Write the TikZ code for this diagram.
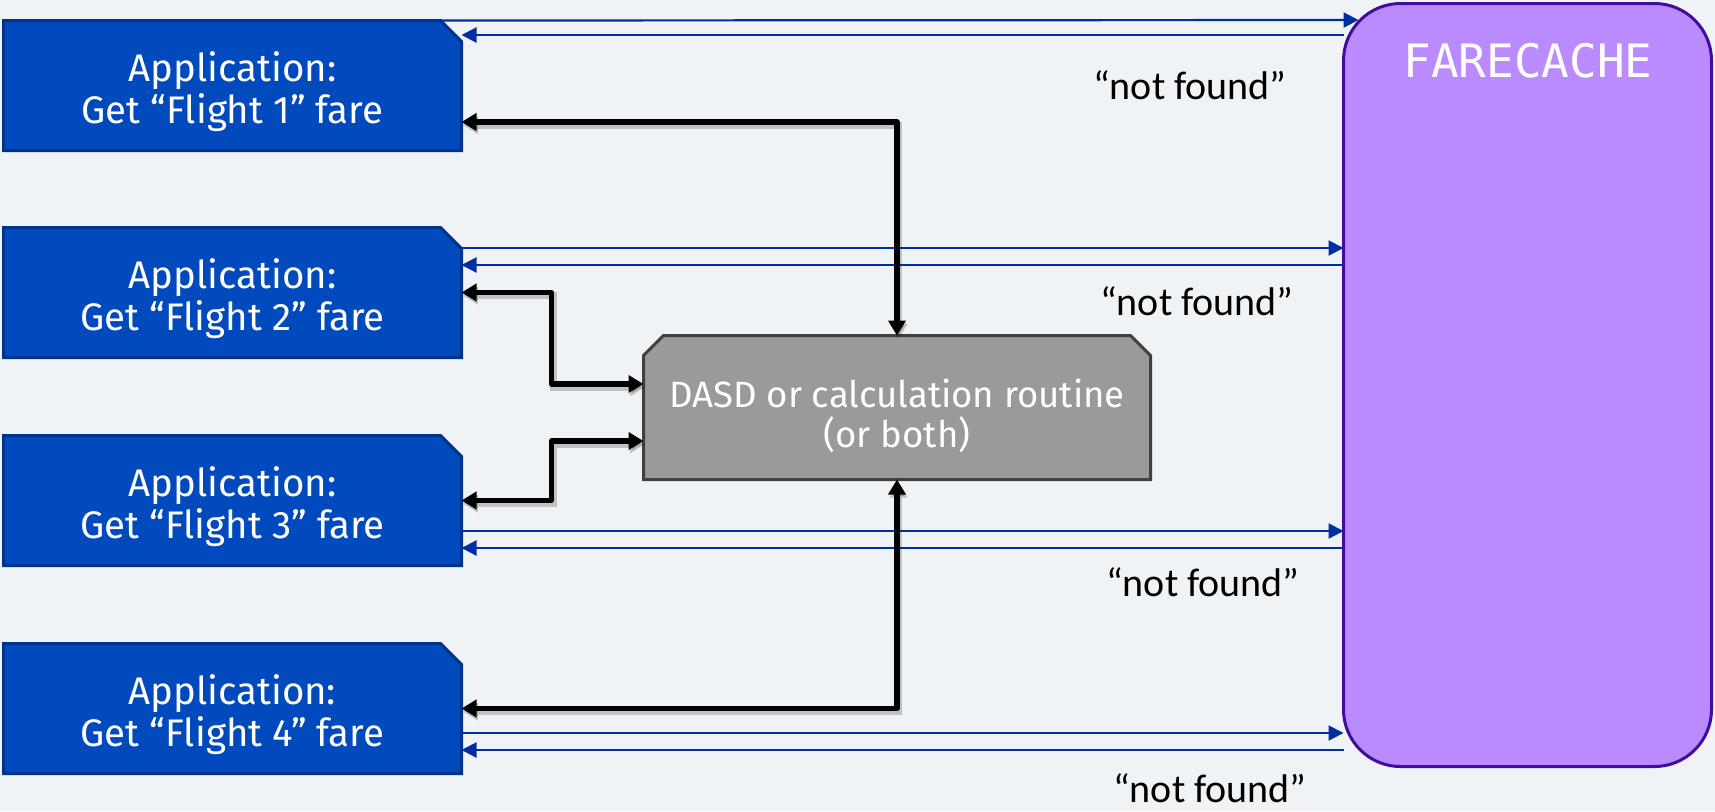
\documentclass[tikz,border=0pt]{standalone}
\usepackage{fontspec}
\setmainfont{Fira Sans}
\newfontfamily\quotefont{Carlito}
\newfontfamily\cachefont{DejaVu Sans Mono}
\usetikzlibrary{arrows.meta,calc,backgrounds}

\definecolor{pagebg}{RGB}{239,243,246}
\definecolor{appfill}{RGB}{0,74,190}
\definecolor{appedge}{RGB}{0,52,140}
\definecolor{dasdfill}{RGB}{154,154,154}
\definecolor{dasdedge}{RGB}{64,64,64}
\definecolor{cachefill}{RGB}{185,139,255}
\definecolor{cacheedge}{RGB}{66,12,158}
\definecolor{flowblue}{RGB}{0,46,162}

\tikzset{
  anchorbox/.style={rectangle, draw=none, inner sep=0pt, outer sep=0pt},
  apptext/.style={text=white, align=center, inner sep=0pt, yshift=-3pt,
    font=\fontsize{19.2pt}{21pt}\selectfont},
  appbox/.style={anchorbox, minimum width=229pt, minimum height=65pt},
  appshape/.style={fill=appfill, draw=appedge, line width=1.5pt},
  dasdtext/.style={text=white, align=center, inner sep=0pt, yshift=-4pt,
    font=\fontsize{18.3pt}{20pt}\selectfont},
  dasdbox/.style={anchorbox, minimum width=253.5pt, minimum height=72pt},
  dasdshape/.style={fill=dasdfill, draw=dasdedge, line width=1.5pt},
  cachebox/.style={rectangle, fill=cachefill, draw=cacheedge, line width=1.5pt,
    rounded corners=28.5pt, minimum width=184pt, minimum height=381.5pt,
    inner sep=0pt, outer sep=0pt},
  quote/.style={font=\quotefont\fontsize{20pt}{22pt}\selectfont, text=black,
    inner sep=0pt},
  flow/.style={draw=flowblue, line width=1.1pt,
    -{Triangle[length=7.5pt,width=7.5pt]}},
  link/.style={draw=black, line width=2.6pt, line join=round,
    {Triangle[length=7.5pt,width=8.5pt]}-{Triangle[length=7.5pt,width=8.5pt]},
    preaction={draw=black, opacity=0.2, line width=3.4pt,
      transform canvas={shift={(0.8pt,-1.6pt)}}}},
}

\newcommand\appoutline[1]{%
  \path[appshape] (#1.south west) -- (#1.north west)
    -- ([xshift=-10.5pt]#1.north east) -- ([yshift=-10.5pt]#1.north east)
    -- (#1.south east) -- cycle;}

\begin{document}
\begin{tikzpicture}[x=0.5pt,y=-0.5pt]
\useasboundingbox (0,0) rectangle (1715,811);

% application requests
\node[appbox, label={[apptext]center:Application:\\Get “Flight 1” fare}] (b1) at (232.5,85.5) {};
\node[appbox, label={[apptext]center:Application:\\Get “Flight 2” fare}] (b2) at (232.5,292.5) {};
\node[appbox, label={[apptext]center:Application:\\Get “Flight 3” fare}] (b3) at (232.5,500.5) {};
\node[appbox, label={[apptext]center:Application:\\Get “Flight 4” fare}] (b4) at (232.5,708.5) {};

% data source
\node[dasdbox, label={[dasdtext]center:DASD or calculation routine\\(or both)}] (dasd) at (897,407.5) {};

% the cache
\node[cachebox] (fc) at (1527.5,385) {};
\node[text=white, font=\cachefont\fontsize{23pt}{25pt}\selectfont, inner sep=0pt]
  (fctitle) at (1528,61) {FARECACHE};

% shapes behind the texts
\begin{pgfonlayer}{background}
  \fill[pagebg] (0,0) rectangle (1715,811);
  \appoutline{b1}
  \appoutline{b2}
  \appoutline{b3}
  \appoutline{b4}
  \path[dasdshape] (dasd.south west) -- ([yshift=-10pt]dasd.north west)
    -- ([xshift=10pt]dasd.north west) -- ([xshift=-10pt]dasd.north east)
    -- ([yshift=-10pt]dasd.north east) -- (dasd.south east) -- cycle;
\end{pgfonlayer}

% cache lookups and "not found" replies
\draw[flow] ([xshift=-10.5pt]b1.north east) -- ($(fc.west |- 0,20)+(15,0)$);
\draw[flow] (fc.west |- 0,35) -- (b1.east |- 0,35);
\draw[flow] (b2.east |- 0,248) -- (fc.west |- 0,248);
\draw[flow] (fc.west |- 0,265) -- (b2.east |- 0,265);
\draw[flow] (b3.east |- 0,531) -- (fc.west |- 0,531);
\draw[flow] (fc.west |- 0,548) -- (b3.east |- 0,548);
\draw[flow] (b4.east |- 0,733) -- (fc.west |- 0,733);
\draw[flow] (fc.west |- 0,750) -- (b4.east |- 0,750);

\node[quote] (nf1) at (1190,85) {“not found”};
\node[quote] (nf2) at (1197,301) {“not found”};
\node[quote] (nf3) at (1203,582) {“not found”};
\node[quote] (nf4) at (1210,788) {“not found”};

% fetches from the data source
\draw[link] (b1.east |- 0,122) -| (dasd.north);
\draw[link] (b2.east) -- ++(90,0) |- (dasd.west |- 0,384);
\draw[link] (b3.east) -- ++(90,0) |- (dasd.west |- 0,441);
\draw[link] (dasd.south) |- (b4.east);
\end{tikzpicture}
\end{document}
